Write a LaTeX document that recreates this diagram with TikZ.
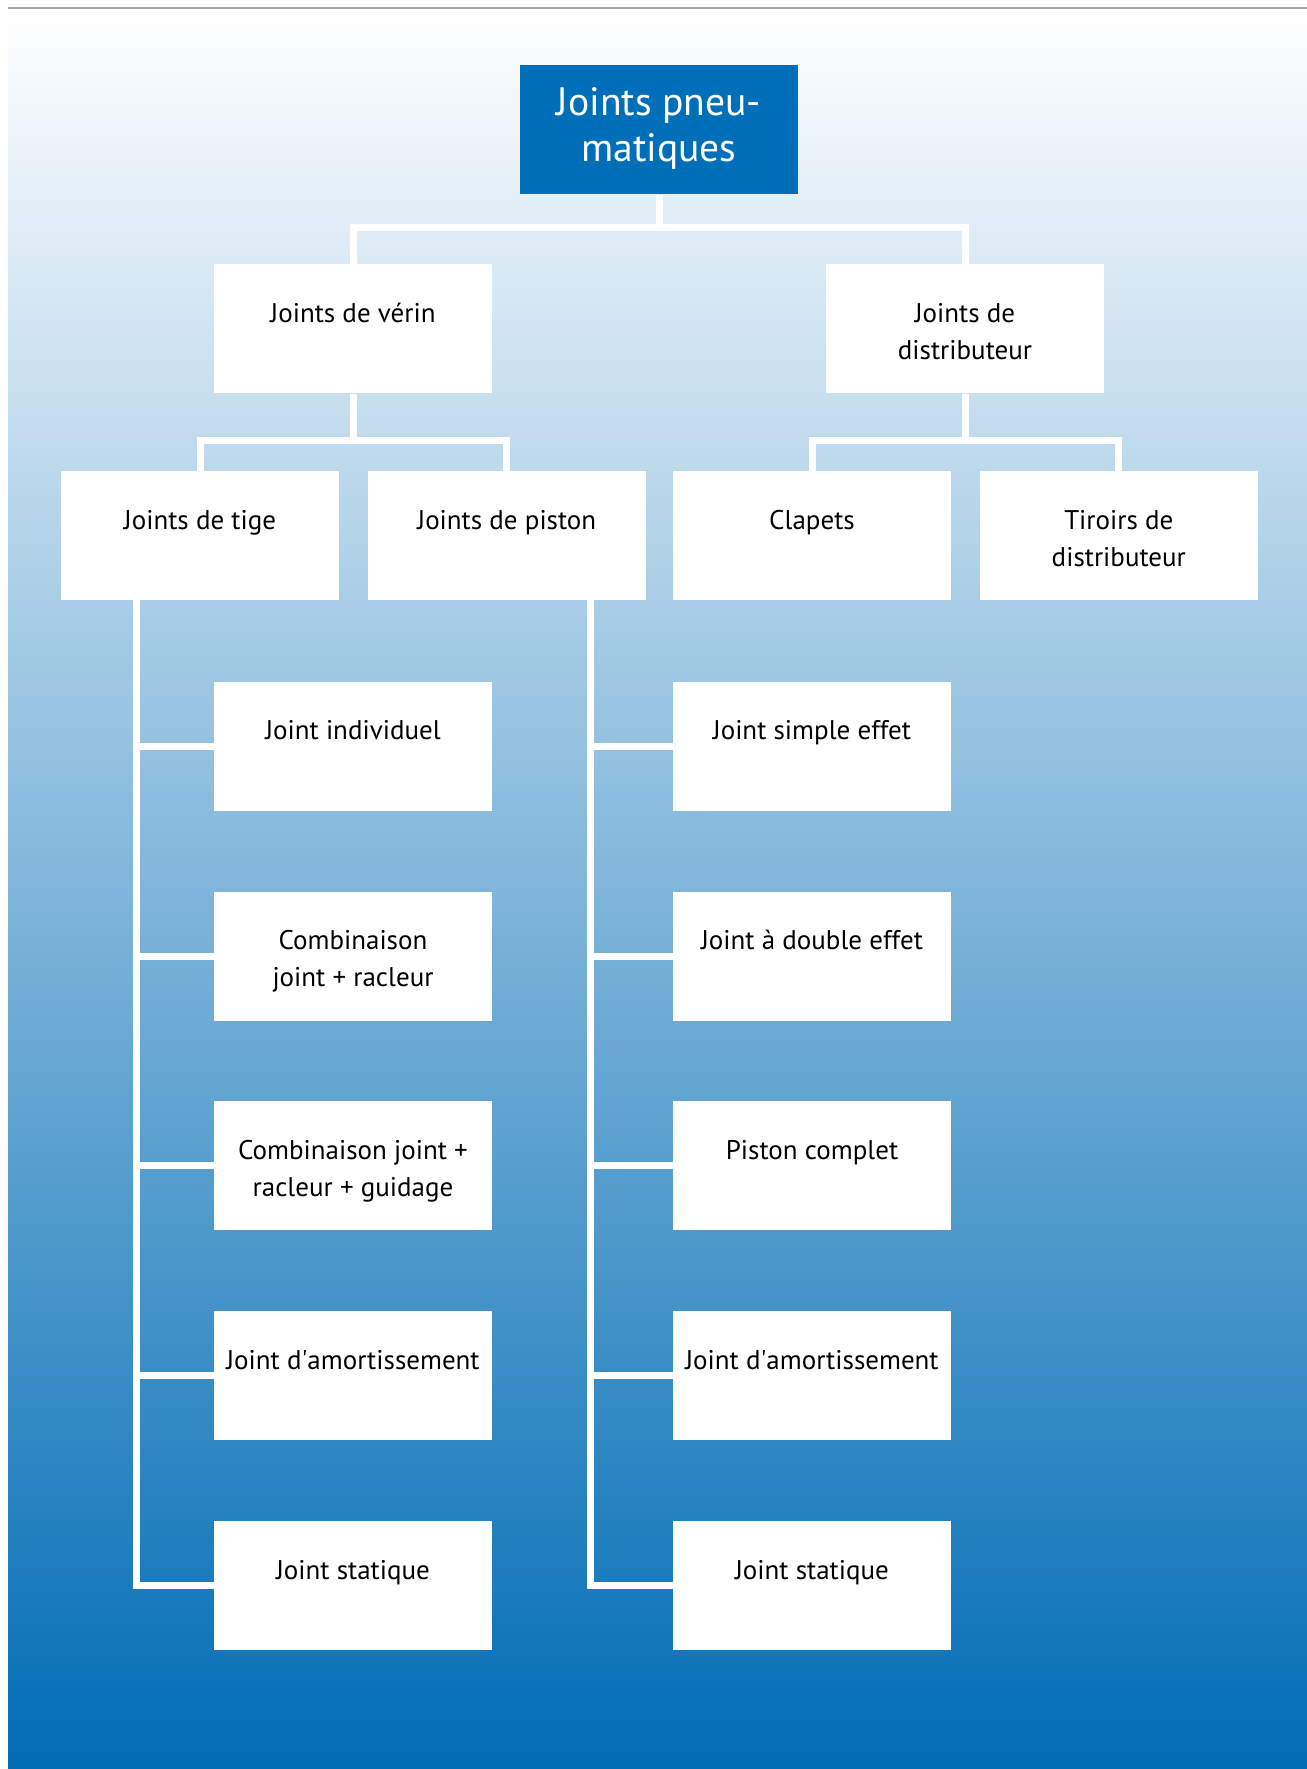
\documentclass[tikz,border=0pt]{standalone}
\usepackage{fontspec}
\setmainfont{PT Sans}
\usepackage{tikz}
\usetikzlibrary{positioning,calc}
\definecolor{titleblue}{RGB}{0,111,185}
\definecolor{deepblue}{RGB}{0,108,181}
\newcommand{\celltext}[1]{\begin{tabular}[t]{@{}c@{}}#1\end{tabular}}

\begin{document}
\begin{tikzpicture}[
  node distance=40pt and 14pt,
  cell/.style={rectangle,fill=white,minimum width=139pt,inner xsep=2pt,inner ysep=0pt,text height=29pt,text depth=35.5pt,font=\fontsize{13.5pt}{18.5pt}\selectfont},
  head/.style={cell,fill=titleblue,text=white,text height=25pt,text depth=39.5pt,font=\fontsize{19.8pt}{23pt}\selectfont},
  link/.style={draw=white,line width=3.5pt},
]
\useasboundingbox (0,0) rectangle (653.5pt,-884.5pt);
\shade[top color=white,bottom color=deepblue] (4pt,-4pt) rectangle (653.5pt,-884.5pt);
\draw[black!35,line width=0.8pt] (4pt,-4pt) -- (653.5pt,-4pt);

\node[head,anchor=north] (pneu) at (329.5pt,-32.5pt) {\celltext{Joints pneu-\\matiques}};
\node[cell,below=34.5pt of pneu,xshift=-153pt] (verin) {Joints de vérin};
\node[cell,below=34.5pt of pneu,xshift=153pt] (distrib) {\celltext{Joints de\\distributeur}};
\node[cell,below=38.5pt of verin,xshift=-76.5pt] (tige) {Joints de tige};
\node[cell,right=of tige] (piston) {Joints de piston};
\node[cell,below=38.5pt of distrib,xshift=-76.5pt] (clapets) {Clapets};
\node[cell,right=of clapets] (tiroirs) {\celltext{Tiroirs de\\distributeur}};

% joints de tige
\node[cell,below=40.5pt of tige,xshift=76.5pt] (indiv) {Joint individuel};
\node[cell,below=of indiv] (racleur) {\celltext{Combinaison\\joint + racleur}};
\node[cell,below=of racleur] (guidage) {\celltext{Combinaison joint +\\racleur + guidage}};
\node[cell,below=of guidage] (amortT) {Joint d\textquotesingle amortissement};
\node[cell,below=of amortT] (statT) {Joint statique};

% joints de piston
\node[cell,below=40.5pt of clapets] (simple) {Joint simple effet};
\node[cell,below=of simple] (double) {Joint à double effet};
\node[cell,below=of double] (complet) {Piston complet};
\node[cell,below=of complet] (amortP) {Joint d\textquotesingle amortissement};
\node[cell,below=of amortP] (statP) {Joint statique};

\coordinate[left=38.5pt of indiv.west] (ltrunk);
\coordinate[left=41pt of simple.west] (rtrunk);

\draw[link] (pneu.south) -- ++(0,-16.5pt) -| (verin.north);
\draw[link] (pneu.south) -- ++(0,-16.5pt) -| (distrib.north);
\draw[link] (verin.south) -- ++(0,-23.5pt) -| (tige.north);
\draw[link] (verin.south) -- ++(0,-23.5pt) -| (piston.north);
\draw[link] (distrib.south) -- ++(0,-23.5pt) -| (clapets.north);
\draw[link] (distrib.south) -- ++(0,-23.5pt) -| (tiroirs.north);

\draw[link] (tige.south -| ltrunk) |- (indiv.west);
\draw[link] (tige.south -| ltrunk) |- (racleur.west);
\draw[link] (tige.south -| ltrunk) |- (guidage.west);
\draw[link] (tige.south -| ltrunk) |- (amortT.west);
\draw[link] (tige.south -| ltrunk) |- (statT.west);
\draw[link] (piston.south -| rtrunk) |- (simple.west);
\draw[link] (piston.south -| rtrunk) |- (double.west);
\draw[link] (piston.south -| rtrunk) |- (complet.west);
\draw[link] (piston.south -| rtrunk) |- (amortP.west);
\draw[link] (piston.south -| rtrunk) |- (statP.west);
\end{tikzpicture}
\end{document}
